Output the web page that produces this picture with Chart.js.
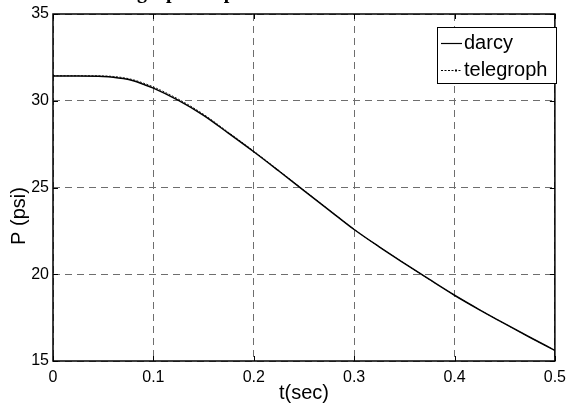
<!DOCTYPE html>
<html>
<head>
<meta charset="utf-8">
<script src="https://cdn.jsdelivr.net/npm/chart.js@4"></script>
<style>
  html, body { margin: 0; padding: 0; background: #fff; }
  #wrap { width: 573px; height: 412px; position: relative; }
</style>
</head>
<body>
<div id="wrap"><canvas id="c" width="573" height="412"></canvas></div>
<script>
// time samples (s) and pressure (psi) for both models
const tSec = [0, 0.025, 0.05, 0.06, 0.07, 0.08, 0.09, 0.1, 0.125, 0.15, 0.175, 0.2, 0.225, 0.25, 0.275, 0.3, 0.325, 0.35, 0.375, 0.4, 0.425, 0.45, 0.475, 0.5];
const darcy = [31.42, 31.42, 31.40, 31.36, 31.28, 31.15, 30.95, 30.73, 30.02, 29.16, 28.12, 27.06, 25.95, 24.82, 23.70, 22.58, 21.58, 20.63, 19.70, 18.79, 17.95, 17.15, 16.37, 15.61];
const telegroph = [31.44, 31.44, 31.43, 31.40, 31.33, 31.21, 31.02, 30.80, 30.09, 29.22, 28.17, 27.10, 25.98, 24.84, 23.71, 22.59, 21.58, 20.63, 19.70, 18.79, 17.95, 17.15, 16.37, 15.61];
const seriesNames = ['darcy', 'telegroph'];
const xTickLabels = ['0', '0.1', '0.2', '0.3', '0.4', '0.5'];
const yTickLabels = ['15', '20', '25', '30', '35'];
const xTitle = 't(sec)';
const yTitle = 'P (psi)';
const topCaption = 'graph for pressure';

const SANS = '"Liberation Sans", Arial, sans-serif';

function pts(ys) { return tSec.map((t, i) => ({ x: t, y: ys[i] })); }

// frame, inward ticks, axis titles, caption and legend box
const decor = {
  id: 'decor',
  afterDraw(chart) {
    const { ctx, chartArea: a, scales } = chart;
    ctx.save();
    ctx.strokeStyle = '#000';
    ctx.lineWidth = 1.5;
    ctx.strokeRect(a.left, a.top, a.right - a.left, a.bottom - a.top);

    ctx.lineWidth = 1;
    scales.x.ticks.forEach(t => {
      const px = Math.round(scales.x.getPixelForValue(t.value)) + 0.5;
      ctx.beginPath();
      ctx.moveTo(px, a.bottom); ctx.lineTo(px, a.bottom - 5);
      ctx.moveTo(px, a.top); ctx.lineTo(px, a.top + 5);
      ctx.stroke();
    });
    scales.y.ticks.forEach(t => {
      const py = Math.round(scales.y.getPixelForValue(t.value)) + 0.5;
      ctx.beginPath();
      ctx.moveTo(a.left, py); ctx.lineTo(a.left + 5, py);
      ctx.moveTo(a.right, py); ctx.lineTo(a.right - 5, py);
      ctx.stroke();
    });

    ctx.fillStyle = '#000';
    ctx.font = '20px ' + SANS;
    ctx.textAlign = 'center';
    ctx.textBaseline = 'middle';
    ctx.fillText(xTitle, (a.left + a.right) / 2, 393);
    ctx.save();
    ctx.translate(19, 216);
    ctx.rotate(-Math.PI / 2);
    ctx.fillText(yTitle, 0, 0);
    ctx.restore();

    // caption above the frame, mostly cut off by the canvas edge
    ctx.font = 'bold 20px "Liberation Serif", "Times New Roman", serif';
    ctx.textAlign = 'left';
    ctx.textBaseline = 'alphabetic';
    ctx.fillText(topCaption, 137, -2);

    // legend
    const lx = 437, ly = 27, lw = 119, lh = 56;
    ctx.fillStyle = '#fff';
    ctx.fillRect(lx, ly, lw, lh);
    ctx.strokeStyle = '#000';
    ctx.lineWidth = 1;
    ctx.strokeRect(lx + 0.5, ly + 0.5, lw, lh);
    const rows = [43, 70];
    const dashes = [[], [2, 1.5]];
    ctx.fillStyle = '#000';
    ctx.font = '20px ' + SANS;
    ctx.textBaseline = 'middle';
    rows.forEach((ry, i) => {
      ctx.setLineDash(dashes[i]);
      ctx.lineWidth = i === 0 ? 1.2 : 1;
      ctx.beginPath();
      ctx.moveTo(441, ry + 0.5); ctx.lineTo(462, ry + 0.5);
      ctx.stroke();
      ctx.setLineDash([]);
      if (i === 1) { ctx.fillRect(455, ry - 0.5, 2, 2); }
      ctx.fillText(seriesNames[i], 464, ry);
    });
    ctx.restore();
  }
};

new Chart(document.getElementById('c'), {
  type: 'line',
  data: {
    datasets: [
      {
        label: seriesNames[0], data: pts(darcy),
        borderColor: '#000', borderWidth: 1.5, pointRadius: 0,
        cubicInterpolationMode: 'monotone', fill: false
      },
      {
        label: seriesNames[1], data: pts(telegroph),
        borderColor: '#222', borderWidth: 1, borderDash: [2, 1.5], pointRadius: 0,
        cubicInterpolationMode: 'monotone', fill: false
      }
    ]
  },
  options: {
    responsive: false,
    animation: false,
    events: [],
    layout: { padding: { top: 14, right: 15, left: 0, bottom: 0 } },
    plugins: { legend: { display: false }, title: { display: false }, tooltip: { enabled: false } },
    scales: {
      x: {
        type: 'linear', min: 0, max: 0.5,
        afterFit(s) { s.height = 51; },
        afterBuildTicks(s) { s.ticks = xTickLabels.map(v => ({ value: parseFloat(v) })); },
        ticks: {
          callback: (v, i) => xTickLabels[i],
          color: '#000', font: { size: 16, family: SANS }, padding: 7, maxRotation: 0, autoSkip: false
        },
        grid: { color: '#6e6e6e', lineWidth: 1, drawTicks: false },
        border: { display: false, dash: [7, 5] }
      },
      y: {
        type: 'linear', min: 15, max: 35,
        afterFit(s) { s.width = 53; },
        afterBuildTicks(s) { s.ticks = yTickLabels.map(v => ({ value: parseFloat(v) })); },
        ticks: {
          callback: (v, i) => yTickLabels[i],
          color: '#000', font: { size: 16, family: SANS }, padding: 4, autoSkip: false
        },
        grid: { color: '#6e6e6e', lineWidth: 1, drawTicks: false },
        border: { display: false, dash: [7, 5] }
      }
    }
  },
  plugins: [decor]
});
</script>
</body>
</html>
